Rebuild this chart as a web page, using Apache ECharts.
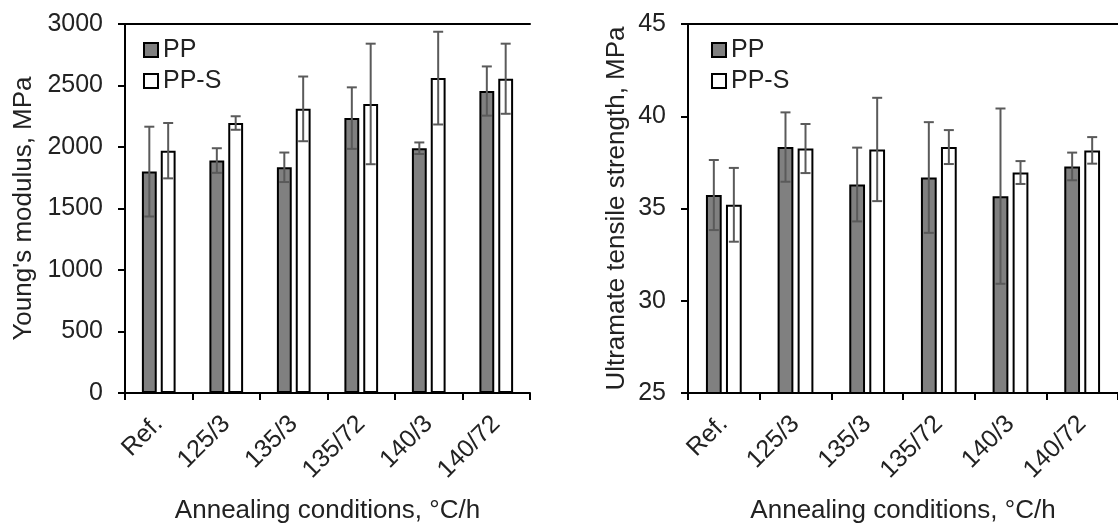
<!DOCTYPE html>
<html>
<head>
<meta charset="utf-8">
<script src="https://cdn.jsdelivr.net/npm/echarts@6/dist/echarts.min.js"></script>
<style>
html,body{margin:0;padding:0;background:#fff;}
#chart{width:1118px;height:529px;}
</style>
</head>
<body>
<div id="chart"></div>
<script>
const categories = ['Ref.', '125/3', '135/3', '135/72', '140/3', '140/72'];
const seriesNames = ['PP', 'PP-S'];

const modulusPP = [1800, 1890, 1835, 2235, 1990, 2455];
const modulusPPErr = [365, 100, 120, 250, 47, 200];
const modulusPPS = [1970, 2195, 2310, 2350, 2560, 2555];
const modulusPPSErr = [225, 55, 263, 490, 377, 285];

const strengthPP = [35.73, 38.33, 36.3, 36.68, 35.67, 37.28];
const strengthPPErr = [1.9, 1.88, 2.0, 3.0, 4.75, 0.75];
const strengthPPS = [35.2, 38.25, 38.2, 38.33, 36.95, 38.15];
const strengthPPSErr = [2.0, 1.33, 2.8, 0.92, 0.62, 0.72];

const modulusAxis = { min: 0, max: 3000, interval: 500 };
const strengthAxis = { min: 25, max: 45, interval: 5 };

const xTitle = 'Annealing conditions, \u00B0C/h';
const yTitleLeft = "Young's modulus, MPa";
const yTitleRight = 'Ultramate tensile strength, MPa';

const FONT = "'Liberation Sans', Arial, sans-serif";
const TXT = '#222';
const GRAY = '#808080';
const ERR = '#5a5a5a';
const BAR_W = 0.22;   // fraction of band
const BAR_GAP = 0.27; // fraction of bar width

const chart = echarts.init(document.getElementById('chart'), null, { renderer: 'canvas' });

function errData(means, errs) {
  return means.map((m, i) => [i, m, errs[i]]);
}
function errSeries(name, xIdx, yIdx, means, errs, sign) {
  return {
    type: 'custom',
    name: name,
    xAxisIndex: xIdx,
    yAxisIndex: yIdx,
    z: 10,
    silent: true,
    encode: { x: 0, y: 1 },
    data: errData(means, errs),
    renderItem: function (params, api) {
      const xi = api.value(0), m = api.value(1), e = api.value(2);
      const band = api.size([1, 0])[0];
      const off = sign * band * BAR_W * (1 + BAR_GAP) / 2;
      const hi = api.coord([xi, m + e]);
      const lo = api.coord([xi, m - e]);
      const x = hi[0] + off;
      const cap = 5;
      const st = { stroke: ERR, lineWidth: 2 };
      return {
        type: 'group',
        children: [
          { type: 'line', shape: { x1: x, y1: hi[1], x2: x, y2: lo[1] }, style: st },
          { type: 'line', shape: { x1: x - cap, y1: hi[1], x2: x + cap, y2: hi[1] }, style: st },
          { type: 'line', shape: { x1: x - cap, y1: lo[1], x2: x + cap, y2: lo[1] }, style: st }
        ]
      };
    }
  };
}
function barSeries(name, xIdx, yIdx, data, color) {
  return {
    type: 'bar',
    name: name,
    xAxisIndex: xIdx,
    yAxisIndex: yIdx,
    barWidth: (BAR_W * 100) + '%',
    barGap: (BAR_GAP * 100) + '%',
    data: data,
    itemStyle: { color: color, borderColor: '#000', borderWidth: 2 },
    emphasis: { disabled: true },
    z: 2
  };
}
function bottomX(gridIndex) {
  return {
    type: 'category', gridIndex: gridIndex, data: categories, position: 'bottom',
    axisLine: { show: true, lineStyle: { color: '#000', width: 2 } },
    axisTick: { show: true, length: 7, inside: false, alignWithLabel: false, lineStyle: { color: '#000', width: 2 } },
    axisLabel: { rotate: 45, margin: 27, fontSize: 25, color: TXT, fontFamily: FONT, interval: 0 },
    name: xTitle, nameLocation: 'middle', nameGap: 105,
    nameTextStyle: { fontSize: 26, color: TXT, fontFamily: FONT }
  };
}
function topX(gridIndex) {
  return {
    type: 'category', gridIndex: gridIndex, data: categories, position: 'top',
    axisLine: { show: true, lineStyle: { color: '#000', width: 2 } },
    axisTick: { show: false }, axisLabel: { show: false }
  };
}
function yAx(gridIndex, ax, title, gap) {
  return {
    type: 'value', gridIndex: gridIndex, min: ax.min, max: ax.max, interval: ax.interval,
    axisLine: { show: true, lineStyle: { color: '#000', width: 2 } },
    axisTick: { show: true, length: 7, lineStyle: { color: '#000', width: 2 } },
    splitLine: { show: false },
    axisLabel: { margin: 22, fontSize: 25, color: TXT, fontFamily: FONT, formatter: v => String(v) },
    name: title, nameLocation: 'middle', nameGap: gap, nameRotate: 90,
    nameTextStyle: { fontSize: 26, color: TXT, fontFamily: FONT }
  };
}
function legend(left) {
  return {
    orient: 'vertical', left: left, top: 31,
    itemWidth: 14, itemHeight: 14, itemGap: 3,
    selectedMode: false,
    textStyle: { fontSize: 25, color: TXT, fontFamily: FONT, lineHeight: 28 },
    data: [
      { name: seriesNames[0], icon: 'rect', itemStyle: { color: GRAY, borderColor: '#000', borderWidth: 2 } },
      { name: seriesNames[1], icon: 'rect', itemStyle: { color: '#fff', borderColor: '#000', borderWidth: 2 } }
    ]
  };
}

const option = {
  animation: false,
  backgroundColor: '#fff',
  textStyle: { fontFamily: FONT },
  grid: [
    { left: 125, top: 24, width: 405, bottom: 132, containLabel: false },
    { left: 688, top: 24, right: -5, bottom: 132, containLabel: false }
  ],
  legend: [legend(138), legend(706)],
  xAxis: [bottomX(0), topX(0), bottomX(1), topX(1)],
  yAxis: [yAx(0, modulusAxis, yTitleLeft, 88), yAx(1, strengthAxis, yTitleRight, 58)],
  series: [
    barSeries(seriesNames[0], 0, 0, modulusPP, GRAY),
    barSeries(seriesNames[1], 0, 0, modulusPPS, '#fff'),
    errSeries(seriesNames[0], 0, 0, modulusPP, modulusPPErr, -1),
    errSeries(seriesNames[1], 0, 0, modulusPPS, modulusPPSErr, 1),
    barSeries(seriesNames[0], 2, 1, strengthPP, GRAY),
    barSeries(seriesNames[1], 2, 1, strengthPPS, '#fff'),
    errSeries(seriesNames[0], 2, 1, strengthPP, strengthPPErr, -1),
    errSeries(seriesNames[1], 2, 1, strengthPPS, strengthPPSErr, 1)
  ]
};
chart.setOption(option);
</script>
</body>
</html>
